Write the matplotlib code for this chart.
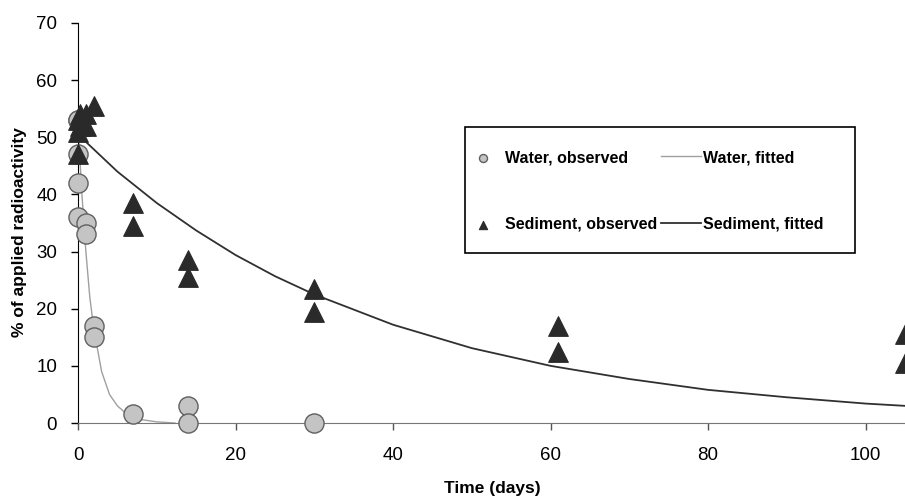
import matplotlib.pyplot as plt
from matplotlib.patches import Rectangle

plt.rcParams['font.family'] = ['Liberation Sans', 'DejaVu Sans']

water_days = [0, 0, 0, 0, 0, 1, 1, 2, 2, 7, 14, 14, 30]
water_obs = [53, 47, 42, 36, 53, 35, 33, 17, 15, 1.5, 3, 0, 0]

sed_days = [0, 0, 0, 0.3, 0.3, 1, 1, 2, 7, 7, 14, 14, 30, 30, 61, 61, 105, 105]
sed_obs = [53, 51, 47, 54, 52, 52, 54, 55.5, 38.5, 34.5, 28.5, 25.5, 23.5, 19.5, 17, 12.5, 15.5, 10.5]

# Fitted curves
water_fit_days = [0, 0.5, 1, 1.5, 2, 3, 4, 5, 6, 7, 8, 10, 12.3]
water_fit = [52, 40, 30, 22, 16.5, 9, 5, 3, 1.8, 1.1, 0.6, 0.2, 0]

sed_fit_days = [0, 5, 10, 15, 20, 25, 30, 40, 50, 60, 70, 80, 90, 100, 105]
sed_fit = [50.5, 44, 38.5, 33.7, 29.4, 25.7, 22.5, 17.2, 13.1, 10, 7.7, 5.8, 4.5, 3.4, 3]

W, H = 905, 499
fig = plt.figure(figsize=(W / 100, H / 100), dpi=100)
ax = fig.add_axes([78 / W, 1 - 423 / H, 1 - 78 / W, 400 / H])

ax.plot(water_fit_days, water_fit, color='#a0a0a0', lw=1.0, label='Water, fitted', zorder=2)
ax.plot(sed_fit_days, sed_fit, color='#303030', lw=1.3, label='Sediment, fitted', zorder=2)
ax.scatter(water_days, water_obs, s=190, marker='o', facecolor='#c4c4c4',
           edgecolor='#606060', lw=1.0, label='Water, observed', zorder=3, clip_on=False)
ax.scatter(sed_days, sed_obs, s=200, marker='^', facecolor='#2a2a2a',
           edgecolor='#2a2a2a', lw=0.8, label='Sediment, observed', zorder=4, clip_on=False)

ax.set_xlim(0, 105)
ax.set_ylim(0, 70)
ax.set_xticks(range(0, 101, 20))
ax.set_yticks(range(0, 71, 10))
ax.tick_params(labelsize=13.5, length=5, direction='out', width=1)
ax.tick_params(axis='y', pad=10)
ax.tick_params(axis='x', pad=12, colors='#555555', labelcolor='black')
ax.spines['top'].set_visible(False)
ax.spines['right'].set_visible(False)
ax.spines['bottom'].set_color('#777777')

fig.text(492 / W, 1 - 488 / H, 'Time (days)', fontsize=12.5, fontweight='bold',
         ha='center', va='center')
fig.text(20 / W, 1 - 232 / H, '% of applied radioactivity', fontsize=12.5,
         fontweight='bold', rotation=90, ha='center', va='center')

# legend box
fig.patches.append(Rectangle((465 / W, 1 - 253 / H), 390 / W, 126 / H,
                             transform=fig.transFigure, fill=False,
                             edgecolor='black', lw=1.2))

handles, labels = ax.get_legend_handles_labels()
order = [2, 3, 0, 1]
ax.legend([handles[i] for i in order], [labels[i] for i in order], ncol=2,
          loc='upper left', bbox_to_anchor=(463 / W, 1 - 150 / H),
          bbox_transform=fig.transFigure, borderaxespad=0, borderpad=0,
          frameon=False, prop={'weight': 'bold', 'size': 11.5}, markerscale=0.42,
          labelspacing=3.25, columnspacing=0.2, handlelength=2.5,
          handletextpad=0.15, scatterpoints=1)

fig.savefig('out.png', dpi=100)
